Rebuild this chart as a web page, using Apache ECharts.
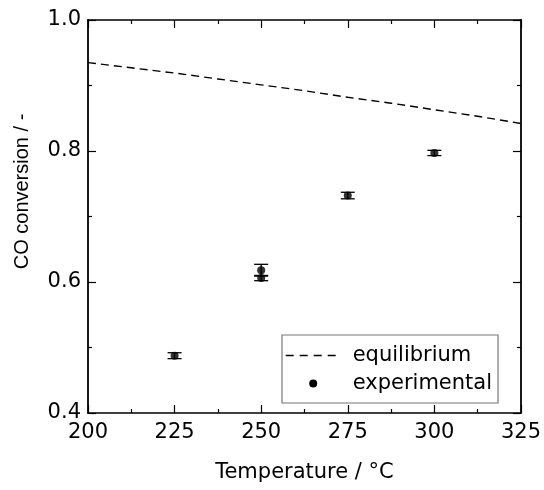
<!DOCTYPE html>
<html>
<head>
<meta charset="utf-8">
<script src="https://cdn.jsdelivr.net/npm/echarts@6/dist/echarts.min.js"></script>
<style>
  html, body { margin: 0; padding: 0; background: #fff; }
  #main { width: 544px; height: 490px; }
</style>
</head>
<body>
<div id="main"></div>
<script>
  // equilibrium curve
  var eqTemp = [200, 212.5, 225, 237.5, 250, 262.5, 275, 287.5, 300, 312.5, 325];
  var eqConv = [0.935, 0.927, 0.919, 0.910, 0.901, 0.892, 0.882, 0.873, 0.863, 0.853, 0.842];

  // experimental points with error bars
  var expTemp = [225, 250, 250, 275, 300];
  var expConv = [0.4875, 0.618, 0.606, 0.732, 0.797];
  var expErr = [0.0045, 0.009, 0.004, 0.005, 0.004];

  // horizontal texts look wide in the original, DejaVu matches the widths
  var fontH = '"DejaVu Sans", sans-serif';
  var fontV = 'Arial, "Liberation Sans", sans-serif';

  var myChart = echarts.init(document.getElementById('main'));

  var lineData = eqTemp.map(function (t, i) { return [t, eqConv[i]]; });
  var dotData = expTemp.map(function (t, i) { return [t, expConv[i]]; });
  var errData = expTemp.map(function (t, i) { return [t, expConv[i] - expErr[i], expConv[i] + expErr[i]]; });

  function axisX(pos) {
    return {
      type: 'value',
      position: pos,
      min: 200,
      max: 325,
      interval: 25,
      name: pos === 'bottom' ? 'Temperature / °C' : '',
      nameLocation: 'middle',
      nameGap: 49,
      nameTextStyle: { fontFamily: fontH, fontSize: 21, color: '#000' },
      axisLine: { show: true, onZero: false, lineStyle: { color: '#000', width: 1.5 } },
      axisTick: { show: true, inside: true, length: 8, lineStyle: { color: '#000', width: 1.2 } },
      minorTick: { show: true, splitNumber: 2, length: 4, lineStyle: { color: '#000', width: 1.2 } },
      axisLabel: { show: pos === 'bottom', margin: 9, fontFamily: fontH, fontSize: 21, color: '#000' },
      splitLine: { show: false }
    };
  }

  function axisY(pos) {
    return {
      type: 'value',
      position: pos,
      min: 0.4,
      max: 1.0,
      interval: 0.2,
      name: pos === 'left' ? 'CO conversion / -' : '',
      nameLocation: 'middle',
      nameGap: 56,
      nameTextStyle: { fontFamily: fontV, fontSize: 20, color: '#000', padding: [0, 0, 0, 50] },
      axisLine: { show: true, onZero: false, lineStyle: { color: '#000', width: 1.8 } },
      axisTick: { show: true, inside: true, length: 8, lineStyle: { color: '#000', width: 1.2 } },
      minorTick: { show: true, splitNumber: 2, length: 4, lineStyle: { color: '#000', width: 1.2 } },
      axisLabel: {
        show: pos === 'left', margin: 7, fontFamily: fontH, fontSize: 21, color: '#000',
        formatter: function (v) { return v.toFixed(1); }
      },
      splitLine: { show: false }
    };
  }

  var option = {
    backgroundColor: '#fff',
    animation: false,
    grid: { left: 88, right: 23, top: 20, bottom: 77 },
    xAxis: [axisX('bottom'), axisX('top')],
    yAxis: [axisY('left'), axisY('right')],
    legend: {
      orient: 'vertical',
      left: 282,
      top: 335,
      padding: [10, 6, 9, 3],
      itemGap: 7,
      itemWidth: 55,
      itemHeight: 8,
      borderColor: '#777',
      borderWidth: 1.2,
      borderRadius: 0,
      backgroundColor: '#fff',
      textStyle: { fontFamily: fontH, fontSize: 21, color: '#000', padding: [0, 0, 0, 7] },
      data: [
        { name: 'equilibrium', itemStyle: { opacity: 0 }, lineStyle: { type: [8, 6], width: 1.4, color: '#000' } },
        { name: 'experimental', icon: 'circle' }
      ]
    },
    series: [
      {
        name: 'equilibrium',
        type: 'line',
        data: lineData,
        symbol: 'none',
        lineStyle: { color: '#000', width: 1.4, type: [8, 5] },
        itemStyle: { color: '#000' },
        z: 2
      },
      {
        name: 'experimental',
        type: 'custom',
        data: errData,
        renderItem: function (params, api) {
          var x = api.value(0);
          var lo = api.coord([x, api.value(1)]);
          var hi = api.coord([x, api.value(2)]);
          var hw = 7;
          var st = { stroke: '#000', lineWidth: 1.3 };
          return {
            type: 'group',
            children: [
              { type: 'line', shape: { x1: lo[0], y1: lo[1], x2: hi[0], y2: hi[1] }, style: st },
              { type: 'line', shape: { x1: lo[0] - hw, y1: lo[1], x2: lo[0] + hw, y2: lo[1] }, style: st },
              { type: 'line', shape: { x1: hi[0] - hw, y1: hi[1], x2: hi[0] + hw, y2: hi[1] }, style: st }
            ]
          };
        },
        itemStyle: { color: '#000' },
        z: 3
      },
      {
        name: 'experimental',
        type: 'scatter',
        data: dotData,
        symbol: 'circle',
        symbolSize: 8,
        itemStyle: { color: '#000' },
        z: 4
      }
    ]
  };
  myChart.setOption(option);
</script>
</body>
</html>
